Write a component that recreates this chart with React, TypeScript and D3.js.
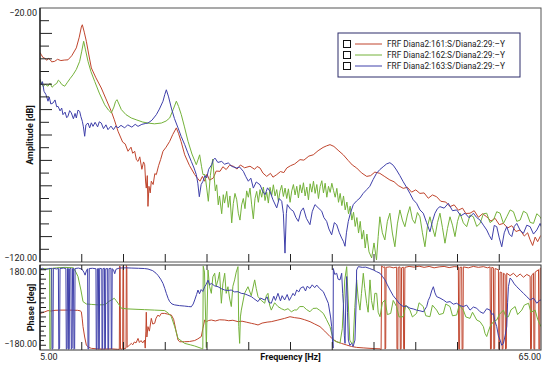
import React from "react";
import * as d3 from "d3";

type Pt = [number, number];

// amplitude [dB] vs frequency [Hz]
const RED_AMP: Pt[] = [
  [5.0, -37.5], [5.16, -38.4], [5.35, -39.5], [5.56, -39.7], [5.8, -40.6], [6.0, -39.8], [6.2, -40.3], [6.4, -41.2],
  [6.76, -41.0], [7.1, -40.2], [7.5, -40.7], [7.9, -40.5], [8.35, -40.4], [8.8, -38.8], [9.35, -35.7], [9.7, -31.5],
  [9.95, -27.5], [10.07, -26.6], [10.3, -29.5], [10.55, -33.1], [10.85, -38.5], [11.15, -43.6], [11.7, -47.5],
  [12.34, -51.5], [12.9, -55.8], [13.54, -60.7], [13.9, -64.0], [14.34, -68.5], [14.9, -72.8], [15.2, -73.5],
  [15.54, -76.4], [15.9, -74.8], [16.1, -77.2], [16.34, -76.4], [16.55, -79.8], [16.74, -80.4], [16.95, -78.6],
  [17.2, -83.5], [17.4, -80.6], [17.54, -81.7], [17.65, -88.5], [17.73, -90.9], [17.85, -86], [17.93, -98.1],
  [18.05, -90.2], [18.2, -92.8], [18.33, -88.2], [18.55, -89.5], [18.75, -85.2], [18.93, -85.6], [19.2, -82.1],
  [19.45, -79.6], [19.73, -76.4], [20.1, -74.8], [20.53, -72.5], [20.9, -69.8], [21.33, -67.2], [21.6, -69.5],
  [21.9, -72.6], [22.33, -77.8], [22.9, -82.0], [23.53, -85.6], [23.9, -87.2], [24.16, -88.2], [24.45, -86.3],
  [24.73, -88.2], [25.0, -85.4], [25.3, -87.8], [25.76, -86.9], [26.1, -84.2], [26.56, -84.3], [26.9, -82.5],
  [27.3, -83.6], [27.7, -81.9], [28.15, -82.3], [28.6, -83.4], [29.0, -81.8], [29.5, -82.9], [30.15, -82.3],
  [30.7, -83.5], [31.0, -82.4], [31.35, -83.0], [31.7, -85.0], [32.15, -86.3], [32.6, -85.1], [32.9, -86.6],
  [33.35, -85.6], [33.8, -84.4], [34.2, -84.8], [34.55, -83.0], [35.0, -82.1], [35.5, -81.4], [36.14, -79.7],
  [36.6, -79.9], [37.2, -78.3], [37.73, -77.8], [38.3, -76.2], [38.9, -74.9], [39.3, -74.3], [39.73, -73.8],
  [40.2, -74.5], [40.7, -76.0], [41.32, -77.8], [41.9, -80.0], [42.4, -81.8], [42.93, -83.0], [43.5, -84.9],
  [44.13, -86.3], [44.6, -86.0], [45.1, -84.6], [45.7, -85.1], [46.3, -86.4], [46.9, -87.7], [47.4, -88.4],
  [47.9, -89.9], [48.5, -91.0], [49.0, -90.6], [49.5, -92.5], [50.0, -91.6], [50.5, -93.0], [51.0, -92.8],
  [51.5, -94.9], [52.0, -93.6], [52.5, -94.3], [53.0, -96.1], [53.6, -96.4], [54.1, -98.2], [54.6, -97.5],
  [55.1, -99.6], [55.6, -98.8], [56.0, -100.9], [56.5, -100.8], [57.0, -99.8], [57.5, -102.4], [58.0, -101.0],
  [58.5, -102.2], [59.0, -103.9], [59.5, -102.8], [60.0, -105.3], [60.5, -104.8], [61.0, -106.6], [61.5, -105.7],
  [62.0, -108.0], [62.5, -107.4], [63.0, -109.8], [63.4, -108.5], [63.7, -111.3], [64.0, -113.5], [64.3, -110.2],
  [64.6, -112.0], [64.9, -110.0], [65.0, -109.5],
];

const GREEN_AMP: Pt[] = [
  [5.0, -48.2], [5.16, -49.5], [5.4, -51.0], [5.6, -50.0], [5.96, -50.8], [6.2, -49.6], [6.45, -51.2], [6.76, -50.2],
  [7.0, -49.7], [7.2, -48.4], [7.36, -48.9], [7.6, -50.1], [7.96, -50.8], [8.3, -49.2], [8.6, -47.8], [8.95, -46.3],
  [9.35, -44.2], [9.75, -41.0], [10.0, -37.0], [10.23, -33.1], [10.45, -36.5], [10.75, -41.0], [11.1, -45.0],
  [11.55, -48.9], [12.1, -53.5], [12.75, -58.1], [13.2, -60.2], [13.54, -61.3], [13.85, -59.0], [14.05, -56.8],
  [14.22, -56.1], [14.45, -57.8], [14.74, -60.0], [15.3, -62.0], [15.93, -63.3], [16.6, -64.1], [17.3, -64.9],
  [17.93, -65.3], [18.7, -65.6], [19.53, -65.3], [20.1, -64.5], [20.53, -63.3], [20.95, -60.0], [21.33, -56.7],
  [21.6, -58.8], [21.92, -62.0], [22.3, -66.8], [22.73, -72.5], [23.2, -77.5], [23.72, -81.7], [23.95, -79.5],
  [24.12, -77.8], [24.35, -82.5], [24.52, -85.6], [24.76, -85.6], [24.95, -90.5], [25.16, -96.1], [25.4, -86.0],
  [25.68, -79.5], [25.85, -86.5], [26.0, -92.0], [26.16, -89.6], [26.35, -97.5], [26.5, -94.0], [26.76, -101.0],
  [26.95, -93.5], [27.1, -96.8], [27.36, -92.2], [27.55, -98.5], [27.75, -94.0], [27.96, -104.6], [28.15, -97.0],
  [28.35, -93.0], [28.56, -95.5], [28.75, -100.8], [28.95, -103.5], [29.15, -97.5], [29.35, -95.0], [29.55, -99.0],
  [29.75, -92.0], [29.95, -94.5], [30.15, -90.9], [30.35, -97.5], [30.55, -103.0], [30.75, -95.0], [30.95, -92.2],
  [31.15, -96.5], [31.35, -91.5], [31.55, -94.5], [31.75, -90.5], [31.95, -95.8], [32.15, -92.5], [32.35, -96.8],
  [32.55, -90.6], [32.75, -93.8], [32.95, -89.6], [33.15, -94.0], [33.35, -91.5], [33.55, -96.1], [33.75, -92.0],
  [33.95, -89.8], [34.15, -94.2], [34.35, -90.9], [34.55, -95.0], [34.75, -91.2], [34.95, -96.5], [35.15, -92.0],
  [35.35, -89.5], [35.55, -93.6], [35.75, -90.2], [35.95, -94.8], [36.15, -89.6], [36.35, -92.8], [36.55, -88.8],
  [36.75, -94.0], [36.95, -90.5], [37.15, -95.5], [37.35, -89.2], [37.55, -92.5], [37.75, -88.2], [37.95, -93.0],
  [38.15, -89.5], [38.35, -95.0], [38.55, -90.3], [38.75, -88.0], [38.95, -92.8], [39.15, -89.0], [39.35, -94.5],
  [39.55, -90.2], [39.75, -92.6], [39.95, -89.0], [40.15, -91.8], [40.35, -94.5], [40.55, -91.0], [40.75, -96.5],
  [40.95, -93.0], [41.15, -97.8], [41.35, -94.0], [41.55, -99.5], [41.75, -96.4], [41.95, -101.0], [42.15, -98.0],
  [42.35, -103.5], [42.55, -100.4], [42.75, -106.0], [42.95, -102.5], [43.15, -108.6], [43.35, -104.0],
  [43.55, -111.0], [43.75, -107.5], [43.95, -114.5], [44.15, -109.0], [44.4, -116.0], [44.72, -118.4],
  [45.0, -112.5], [45.3, -119.2], [45.5, -110.0], [45.7, -102.2], [46.0, -108.5], [46.3, -111.3], [46.6, -104.0],
  [46.9, -100.8], [47.2, -108.6], [47.5, -114.0], [47.8, -105.0], [48.1, -99.5], [48.4, -103.5], [48.7, -106.1],
  [49.0, -101.5], [49.3, -98.2], [49.6, -103.2], [49.9, -104.8], [50.2, -100.5], [50.5, -102.2], [50.8, -108.5],
  [51.1, -114.0], [51.4, -106.0], [51.7, -102.2], [52.0, -106.4], [52.3, -110.0], [52.6, -104.5], [52.9, -100.8],
  [53.2, -106.5], [53.5, -112.6], [53.8, -106.8], [54.1, -102.2], [54.4, -105.5], [54.7, -110.0], [55.0, -104.0],
  [55.3, -100.8], [55.7, -104.6], [56.1, -106.1], [56.5, -101.5], [56.9, -102.2], [57.3, -106.0], [57.7, -104.8],
  [58.1, -101.0], [58.5, -100.8], [58.9, -104.5], [59.3, -103.5], [59.7, -100.2], [60.1, -100.8], [60.5, -104.8],
  [60.9, -102.2], [61.3, -99.5], [61.7, -100.2], [62.1, -104.0], [62.5, -103.5], [62.9, -100.0], [63.3, -100.8],
  [63.7, -104.4], [64.1, -104.8], [64.5, -101.0], [64.9, -102.2], [65.0, -103.0],
];

const BLUE_AMP: Pt[] = [
  [5.0, -48.0], [5.16, -50.2], [5.3, -49.0], [5.48, -52.8], [5.7, -54.0], [5.96, -56.7], [6.1, -55.0], [6.3, -57.8],
  [6.56, -57.4], [6.8, -56.2], [7.0, -58.9], [7.16, -58.7], [7.4, -60.5], [7.6, -59.4], [7.75, -62.0], [8.0, -61.0],
  [8.2, -63.2], [8.35, -62.6], [8.55, -60.4], [8.75, -61.3], [9.0, -63.6], [9.2, -61.5], [9.35, -63.3], [9.55, -60.2],
  [9.75, -60.7], [9.9, -62.8], [10.07, -64.6], [10.2, -66.8], [10.35, -70.5], [10.5, -66.0], [10.75, -65.3],
  [10.95, -67.2], [11.15, -65.2], [11.35, -66.6], [11.6, -65.0], [11.9, -66.8], [12.1, -64.8], [12.34, -65.3],
  [12.6, -67.5], [12.9, -66.0], [13.14, -67.9], [13.5, -66.5], [13.8, -67.9], [14.1, -66.4], [14.34, -67.2],
  [14.7, -66.2], [15.14, -67.2], [15.5, -66.0], [16.0, -66.9], [16.4, -65.8], [16.74, -66.6], [17.2, -65.8],
  [17.6, -65.5], [17.93, -65.3], [18.4, -64.2], [18.93, -62.0], [19.3, -59.8], [19.73, -56.7], [19.95, -54.0],
  [20.13, -52.2], [20.4, -55.0], [20.73, -59.4], [21.1, -63.5], [21.53, -67.2], [21.9, -70.5], [22.33, -73.8],
  [22.7, -77.0], [23.12, -80.4], [23.45, -83.0], [23.72, -85.6], [23.9, -89.0], [24.08, -94.3], [24.3, -89.5],
  [24.52, -88.2], [24.75, -86.0], [24.96, -86.9], [25.2, -83.5], [25.56, -81.7], [25.75, -79.8], [25.96, -79.1],
  [26.3, -80.8], [26.76, -80.4], [27.1, -81.5], [27.55, -81.0], [28.0, -82.4], [28.56, -83.0], [28.9, -82.6],
  [29.35, -84.3], [29.65, -86.4], [29.95, -88.2], [30.25, -87.0], [30.55, -90.9], [30.9, -88.5], [31.35, -89.6],
  [31.65, -92.0], [31.95, -93.5], [32.25, -90.8], [32.54, -92.2], [32.9, -95.5], [33.35, -98.7], [33.65, -95.0],
  [33.95, -96.1], [34.15, -101.0], [34.34, -116.5], [34.5, -101.0], [34.62, -97.4], [35.0, -99.2], [35.34, -100.0],
  [35.65, -102.5], [35.94, -104.0], [36.25, -100.0], [36.54, -98.7], [36.9, -102.8], [37.33, -105.3], [37.6, -100.2],
  [37.93, -97.4], [38.3, -98.6], [38.74, -100.0], [39.0, -102.5], [39.33, -104.0], [39.6, -107.0], [39.93, -109.3],
  [40.25, -104.5], [40.53, -105.3], [40.85, -108.5], [41.13, -110.6], [41.35, -112.0], [41.53, -113.8],
  [41.7, -108.5], [41.92, -104.0], [42.2, -100.5], [42.52, -97.4], [42.9, -96.0], [43.32, -94.8], [43.7, -93.0],
  [44.13, -91.5], [44.5, -90.2], [44.9, -87.5], [45.3, -85.1], [45.7, -83.6], [46.1, -82.5], [46.5, -81.4],
  [46.9, -80.9], [47.3, -81.9], [47.7, -83.8], [48.1, -86.0], [48.5, -88.4], [48.9, -90.6], [49.3, -93.0],
  [49.7, -95.5], [50.1, -96.9], [50.5, -99.5], [50.9, -100.8], [51.3, -104.5], [51.7, -108.1], [52.0, -104.0],
  [52.3, -100.8], [52.6, -99.0], [52.9, -98.2], [53.4, -98.8], [53.9, -96.9], [54.4, -99.8], [54.9, -99.5],
  [55.4, -101.8], [55.9, -100.8], [56.4, -102.6], [56.9, -100.8], [57.3, -102.5], [57.7, -103.5], [58.1, -105.5],
  [58.5, -107.4], [58.8, -109.5], [59.1, -111.3], [59.4, -105.6], [59.7, -106.1], [60.0, -110.5], [60.3, -114.0],
  [60.6, -108.5], [60.9, -106.1], [61.2, -109.0], [61.5, -110.0], [61.8, -106.0], [62.1, -104.8], [62.5, -107.5],
  [62.9, -108.7], [63.3, -105.5], [63.7, -106.1], [64.1, -109.0], [64.5, -107.4], [64.9, -104.8], [65.0, -106.0],
];

// phase [deg] vs frequency [Hz]
const RED_PH: Pt[] = [
  [5.0, -25], [5.3, -22], [5.6, -18], [5.96, -13], [6.3, -15], [6.8, -12], [7.5, -11], [8.5, -11], [9.5, -12],
  [9.8, -14], [9.95, -18], [10.05, -45], [10.15, -81], [10.35, -125], [10.55, -159], [10.8, -168], [11.15, -173],
  [11.8, -175], [12.5, -176], [13.5, -175], [14.3, -177], [14.5, -177], [14.54, 176], [14.6, 172], [14.64, -176],
  [14.9, -176], [14.94, 176], [15.0, 174], [15.04, -175], [15.3, -172], [15.34, 178], [15.4, 170], [15.44, -168],
  [15.7, -160], [15.94, -152], [16.1, -158], [16.3, -146], [16.5, -150], [16.74, -131], [16.9, -148], [17.1, -140],
  [17.3, -150], [17.53, -138], [17.6, -172], [17.68, -100], [17.73, -20], [17.8, -125], [17.93, -81], [18.1, -100],
  [18.33, -46], [18.5, -70], [18.73, -67], [18.9, -45], [19.13, -32], [19.3, -38], [19.53, -25], [19.93, -25],
  [20.3, -28], [20.73, -32], [21.0, -50], [21.3, -100], [21.53, -138], [21.73, -145], [22.32, -145], [22.9, -144],
  [23.52, -140], [23.9, -133], [24.32, -123], [24.5, -90], [24.72, -53], [24.92, -60], [25.2, -55], [25.52, -53],
  [26.0, -57], [26.5, -52], [27.12, -53], [27.6, -56], [28.1, -54], [28.71, -60], [29.2, -58], [29.7, -62],
  [30.31, -67], [30.7, -70], [31.11, -74], [31.6, -66], [32.2, -62], [32.7, -60], [33.4, -54], [34.3, -46],
  [34.94, -39], [35.5, -43], [36.14, -46], [36.7, -52], [37.34, -60], [37.9, -70], [38.53, -81], [39.1, -100],
  [39.73, -123], [40.1, -135], [40.53, -145], [41.1, -152], [41.73, -159], [42.3, -165], [42.92, -169], [43.7, -171],
  [44.52, -173], [45.1, -174], [45.72, -175], [45.85, -178], [45.92, 176], [46.1, 170], [46.3, 172], [46.32, -176],
  [46.4, -172], [46.45, 170], [46.9, 172], [47.3, 168], [47.71, 171], [47.75, -175], [47.85, -176], [47.9, 170],
  [48.11, 172], [48.15, -176], [48.25, -175], [48.3, 168], [48.51, 171], [48.55, -175], [48.65, -176], [48.7, 170],
  [49.2, 174], [49.8, 171], [50.4, 175], [51.0, 170], [51.6, 174], [52.2, 168], [52.8, 172], [53.4, 174], [54.0, 169],
  [54.6, 173], [55.1, 172], [55.15, -175], [55.25, -176], [55.3, 170], [55.5, 171], [55.55, -176], [55.65, -175],
  [55.7, 172], [56.3, 168], [56.9, 174], [57.5, 170], [58.1, 173], [58.6, 168], [58.9, 172], [58.95, -176],
  [59.05, -175], [59.1, 170], [59.3, 168], [59.35, -176], [59.45, -174], [59.5, 165], [59.9, 160], [59.95, -175],
  [60.05, -176], [60.1, 150], [60.3, 148], [60.35, -176], [60.45, -175], [60.5, 145], [60.7, 140], [60.75, -176],
  [60.85, -174], [60.9, 145], [61.3, 135], [61.7, 145], [62.1, 130], [62.5, 142], [62.9, 128], [63.3, 140],
  [63.7, 132], [63.75, -176], [63.85, -175], [63.9, 138], [64.1, 145], [64.15, -175], [64.25, -176], [64.3, 150],
  [64.7, 160], [64.75, -176], [64.85, -175], [64.9, 165], [65.0, 168],
];

const GREEN_PH: Pt[] = [
  [5.0, 160], [5.5, 165], [6.0, 163], [6.15, 166], [6.18, -175], [6.3, -174], [6.35, 165], [7.0, 168], [8.0, 170],
  [9.0, 168], [9.3, 150], [9.55, 131], [9.9, 74], [10.15, 25], [10.55, 15], [11.2, 13], [12.0, 11], [12.8, 12],
  [13.2, 25], [13.55, 32], [13.9, 39], [14.1, 30], [14.35, 18], [14.74, -3], [15.5, -6], [16.74, -8], [17.5, -9],
  [18.73, -11], [19.93, -13], [20.4, -25], [20.73, -39], [21.13, -81], [21.53, -131], [22.32, -152], [23.0, -158],
  [23.52, -163], [24.32, -173], [24.5, -175], [24.55, 175], [24.7, 150], [24.92, -170], [25.12, 159], [25.3, 90],
  [25.52, 60], [25.7, 130], [25.92, 145], [26.1, 90], [26.32, 117], [26.5, 150], [26.72, 18], [26.9, 100],
  [27.12, 145], [27.3, 60], [27.51, 88], [27.7, 40], [27.91, 4], [28.1, 90], [28.31, 117], [28.5, 150], [28.71, 173],
  [28.8, -80], [28.91, -152], [29.0, -40], [29.11, -11], [29.5, 60], [29.91, 88], [30.3, 50], [30.71, 117],
  [30.9, 80], [31.11, 46], [31.5, 30], [31.91, 18], [32.1, 50], [32.3, 60], [32.5, 10], [32.7, -11], [33.1, 20],
  [33.5, 4], [33.9, -5], [34.3, -11], [34.7, -5], [35.1, -18], [35.5, -10], [35.74, -11], [36.1, 4], [36.54, 4],
  [36.9, -8], [37.33, -18], [37.7, -4], [38.14, -3], [38.5, -12], [38.93, -25], [39.3, -50], [39.73, -81],
  [40.13, -138], [40.53, -145], [40.93, -150], [41.2, -90], [41.5, 117], [41.73, 173], [41.9, 40], [42.1, -138],
  [42.3, -150], [42.5, -152], [42.7, 0], [42.92, 117], [43.1, 40], [43.32, -11], [43.5, 60], [43.72, 145], [43.9, 80],
  [44.12, 18], [44.3, -20], [44.52, 117], [44.7, 30], [44.92, -11], [45.1, 60], [45.32, 60], [45.5, -20],
  [45.72, -39], [46.0, 20], [46.32, 32], [46.6, -30], [47.0, -25], [47.3, 30], [47.7, 4], [48.0, -40], [48.5, -39],
  [48.8, 10], [49.3, -11], [49.6, -40], [50.1, -25], [50.4, 20], [50.9, 4], [51.2, -35], [51.7, -39], [52.0, 10],
  [52.5, -11], [52.8, -30], [53.3, -25], [53.6, 15], [54.1, 4], [54.4, -35], [54.9, -32], [55.2, 10], [55.7, -11],
  [56.0, -40], [56.5, -46], [56.8, -20], [57.3, -53], [57.7, -60], [58.1, -81], [58.3, -110], [58.5, -123],
  [58.7, -100], [58.9, -81], [59.3, -60], [59.7, -53], [60.0, -30], [60.5, -11], [60.8, -40], [61.1, -39],
  [61.4, -10], [61.9, 4], [62.2, -30], [62.7, -11], [63.0, 10], [63.5, 18], [63.8, -20], [64.3, -11], [64.6, -50],
  [65.0, -81],
];

const BLUE_PH: Pt[] = [
  [5.0, 162], [5.3, 166], [5.6, 160], [6.0, 164], [6.4, 166], [6.45, -176], [6.55, -174], [6.6, 166], [7.0, 163],
  [7.2, 166], [7.25, -177], [7.35, -172], [7.4, 165], [7.8, 167], [8.1, 165], [8.15, -176], [8.25, -174], [8.3, 166],
  [8.4, 165], [8.43, -177], [8.5, -175], [8.55, 164], [8.7, 166], [8.75, -176], [8.85, -173], [8.9, 165], [9.0, 166],
  [9.07, -177], [9.15, -174], [9.2, 165], [9.6, 167], [10.0, 163], [10.25, 150], [10.4, 137], [10.55, 155],
  [10.7, 164], [10.75, -176], [10.85, -174], [10.9, 165], [11.3, 166], [11.7, 164], [11.74, -177], [11.82, -175],
  [11.88, 164], [12.0, 165], [12.03, -176], [12.1, -174], [12.15, 166], [12.4, 164], [12.43, -177], [12.5, -174],
  [12.55, 165], [12.72, 166], [12.75, -176], [12.83, -174], [12.88, 164], [13.1, 165], [13.14, -177], [13.22, -175],
  [13.27, 165], [13.5, 166], [13.54, -176], [13.6, -173], [13.65, 164], [13.8, 160], [13.95, 143], [14.1, 162],
  [14.5, 167], [15.2, 168], [16.0, 167], [16.8, 166], [17.5, 165], [17.93, 163], [18.5, 156], [18.9, 145],
  [19.13, 136], [19.45, 120], [19.73, 102], [19.95, 80], [20.13, 60], [20.35, 38], [20.53, 25], [20.8, 15],
  [21.13, 11], [21.7, 8], [22.33, 6], [22.8, 4], [23.12, 3], [23.35, 15], [23.53, 32], [23.75, 55], [23.92, 74],
  [24.1, 58], [24.3, 76], [24.5, 68], [24.72, 88], [24.9, 98], [25.12, 116], [25.3, 96], [25.52, 102], [25.9, 92],
  [26.32, 88], [26.7, 80], [27.12, 74], [27.5, 72], [27.9, 74], [28.3, 66], [28.71, 67], [29.1, 60], [29.5, 58],
  [29.9, 52], [30.31, 46], [30.6, 38], [31.1, 25], [31.4, 40], [31.9, 32], [32.2, 45], [32.4, 22], [32.7, 18],
  [33.0, 48], [33.2, 30], [33.5, 60], [33.8, 28], [34.0, 50], [34.3, 32], [34.6, 55], [34.85, 30], [35.1, 46],
  [35.3, 60], [35.5, 50], [35.74, 74], [36.0, 66], [36.2, 82], [36.54, 88], [36.8, 70], [37.0, 90], [37.33, 81],
  [37.6, 96], [37.9, 84], [38.14, 95], [38.5, 80], [38.93, 67], [39.2, 45], [39.53, 18], [39.8, -40], [39.93, -81],
  [40.05, -150], [40.1, -172], [40.13, 165], [40.3, 140], [40.53, 145], [40.7, 120], [40.93, 117], [41.13, 145],
  [41.25, 60], [41.33, 18], [41.45, -120], [41.53, -152], [41.63, 40], [41.73, 131], [41.83, -20], [41.93, -138],
  [42.1, -160], [42.33, -152], [42.5, -165], [42.72, -138], [42.85, 10], [42.92, 159], [43.12, 173], [43.6, 170],
  [44.0, 171], [44.5, 165], [44.92, 159], [45.3, 152], [45.72, 145], [46.0, 132], [46.32, 117], [46.6, 96],
  [46.92, 74], [47.3, 50], [47.71, 32], [48.1, 14], [48.51, 4], [48.9, 6], [49.31, -3], [49.7, -6], [50.11, -11],
  [50.5, -14], [50.91, -18], [51.1, -8], [51.31, 4], [51.5, 30], [51.71, 46], [51.9, 70], [52.11, 88], [52.3, 62],
  [52.5, 46], [52.9, 40], [53.3, 32], [53.7, 22], [54.1, 25], [54.5, 14], [54.9, 18], [55.3, 8], [55.7, 4],
  [56.1, 10], [56.5, -11], [56.9, 2], [57.3, -3], [57.7, -18], [58.1, -25], [58.5, -5], [58.9, -11], [59.1, -30],
  [59.3, -25], [59.5, -60], [59.7, -81], [59.9, -120], [60.1, -138], [60.3, -160], [60.5, -152], [60.7, -120],
  [60.9, -81], [61.0, 20], [61.1, 88], [61.3, 125], [61.5, 117], [61.8, 100], [62.1, 88], [62.5, 74], [62.9, 60],
  [63.3, 46], [63.7, 32], [64.1, 40], [64.5, 18], [64.8, 30], [65.0, 32],
];

const SERIES = [
  { name: "FRF Diana2:161:S/Diana2:29:–Y", color: "#c0452d", amp: RED_AMP, ph: RED_PH },
  { name: "FRF Diana2:162:S/Diana2:29:–Y", color: "#74b23a", amp: GREEN_AMP, ph: GREEN_PH },
  { name: "FRF Diana2:163:S/Diana2:29:–Y", color: "#3f40aa", amp: BLUE_AMP, ph: BLUE_PH },
];

const X_TICKS = [10, 15, 20, 25, 30, 35, 40, 45, 50, 55, 60];
const AMP_TICKS = [-25, -30, -35, -40, -45, -50, -55, -60, -65, -70, -75, -80, -85, -90, -95, -100, -105, -110, -115];
const PH_TICKS = [-160, -140, -120, -100, -80, -60, -40, -20, 0, 20, 40, 60, 80, 100, 120, 140, 160];

const left = 40;
const right = 541;
const ampTop = 8;
const ampBot = 262;
const phTop = 265;
const phBot = 350;
const font = "Roboto, 'DejaVu Sans', sans-serif";

export default function App() {
  const x = d3.scaleLinear().domain([5, 65]).range([left, right]);
  const yA = d3.scaleLinear().domain([-120, -20]).range([ampBot, ampTop]);
  const yP = d3.scaleLinear().domain([-180, 180]).range([phBot, phTop]);

  const lineA = d3.line<Pt>().x((d) => x(d[0])).y((d) => yA(d[1]));
  const lineP = d3.line<Pt>().x((d) => x(d[0])).y((d) => yP(d[1]));

  return (
    <svg
      width={550}
      height={369}
      style={{ position: "absolute", left: 0, top: 0, background: "#fff" }}
      fontFamily={font}
    >
      <defs>
        <clipPath id="clipA">
          <rect x={left} y={ampTop} width={right - left} height={ampBot - ampTop} />
        </clipPath>
        <clipPath id="clipP">
          <rect x={left} y={phTop} width={right - left} height={phBot - phTop} />
        </clipPath>
      </defs>

      {/* amplitude curves */}
      <g clipPath="url(#clipA)" fill="none" strokeWidth={1}>
        {SERIES.map((s) => (
          <path key={s.name} d={lineA(s.amp) ?? ""} stroke={s.color} />
        ))}
      </g>

      {/* phase curves */}
      <g clipPath="url(#clipP)" fill="none" strokeWidth={1}>
        {SERIES.map((s) => (
          <path key={s.name} d={lineP(s.ph) ?? ""} stroke={s.color} />
        ))}
      </g>

      {/* frames */}
      <rect x={left} y={ampTop} width={right - left} height={ampBot - ampTop} fill="none" stroke="#555" strokeWidth={1} />
      <rect x={left} y={phTop} width={right - left} height={phBot - phTop} fill="none" stroke="#333" strokeWidth={1} />
      <line x1={left} x2={left} y1={ampTop} y2={ampBot} stroke="#111" strokeWidth={1.2} />
      <line x1={left} x2={left} y1={phTop} y2={phBot} stroke="#111" strokeWidth={1.2} />

      {/* ticks */}
      <g stroke="#222" strokeWidth={1}>
        {AMP_TICKS.map((t) => (
          <line key={"a" + t} x1={left} x2={left + (t % 10 === 0 ? 12 : 9)} y1={yA(t)} y2={yA(t)} />
        ))}
        {PH_TICKS.map((t) => (
          <line key={"p" + t} x1={left} x2={left + (t % 40 === 0 ? 6 : 4)} y1={yP(t)} y2={yP(t)} />
        ))}
        {X_TICKS.map((t) => (
          <g key={"x" + t}>
            <line x1={x(t)} x2={x(t)} y1={ampBot} y2={ampBot - 8} />
            <line x1={x(t)} x2={x(t)} y1={phTop} y2={phTop + 5} />
            <line x1={x(t)} x2={x(t)} y1={phBot} y2={phBot - 8} />
          </g>
        ))}
      </g>

      {/* tick labels */}
      <g fontSize={9} fill="#222">
        <text x={37} y={16} textAnchor="end">−20.00</text>
        <text x={37} y={261} textAnchor="end">−120.00</text>
        <text x={37} y={275} textAnchor="end">180.00</text>
        <text x={37} y={347} textAnchor="end">−180.00</text>
        <text x={left} y={360}>5.00</text>
        <text x={right} y={360} textAnchor="end">65.00</text>
      </g>

      {/* axis titles */}
      <g fontSize={9} fontWeight="bold" fill="#111" textAnchor="middle">
        <text transform={`translate(33,${(ampTop + ampBot) / 2}) rotate(-90)`}>Amplitude [dB]</text>
        <text transform={`translate(34,${(phTop + phBot) / 2}) rotate(-90)`}>Phase [deg]</text>
        <text x={(left + right) / 2} y={360}>Frequency [Hz]</text>
      </g>

      {/* legend */}
      <g>
        <rect x={338} y={33} width={182} height={44} fill="#fff" stroke="#2d2d6b" strokeWidth={1} />
        {SERIES.map((s, i) => {
          const cy = 44 + i * 11;
          return (
            <g key={s.name}>
              <rect x={343.5} y={cy - 3.5} width={7} height={7} fill="#fff" stroke="#111" strokeWidth={1} />
              <line x1={355} x2={382} y1={cy} y2={cy} stroke={s.color} strokeWidth={1} />
              <text x={387} y={cy + 3} fontSize={8.3} fill="#222">
                {s.name}
              </text>
            </g>
          );
        })}
      </g>
    </svg>
  );
}
